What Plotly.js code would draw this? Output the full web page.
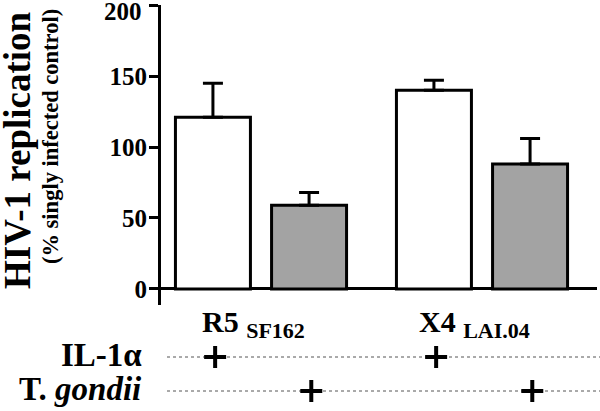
<!DOCTYPE html>
<html>
<head>
<meta charset="utf-8">
<script src="https://cdn.plot.ly/plotly-3.0.1.min.js"></script>
<style>html,body{margin:0;padding:0;background:#fff;}#chart{width:600px;height:411px;}</style>
</head>
<body>
<div id="chart"></div>
<script>
// ---- data ----
const groups = ['R5', 'X4'];
const groupSubs = ['SF162', 'LAI.04'];
const il1aValues = [121, 140];
const il1aErrors = [24, 7];
const tgondiiValues = [59, 88];
const tgondiiErrors = [9, 18];
const yTicks = [0, 50, 100, 150, 200];
const rowLabels = ['IL-1α', 'T. <i>gondii</i>'];

// ---- layout helpers ----
const W = 600, H = 411;
const M = {l: 161, r: 3, t: 5, b: 106};
const plotW = W - M.l - M.r, plotH = H - M.t - M.b;
const px = p => (p - M.l) / plotW;
const py = p => (H - M.b - p) / plotH;
const yRange = [-11.3, 200.05];

const bargap = 0.13, bargroupgap = 0.22;
const slot = (1 - bargap) / 2;
const xIdx = groups.map((g, i) => i);
const serif = 'Liberation Serif, serif';
const yMax = yTicks[yTicks.length - 1];

const traces = [
  {
    type: 'bar', x: xIdx, name: 'IL-1α', y: il1aValues, hoverinfo: 'skip',
    marker: {color: '#ffffff', line: {color: '#000', width: 3}},
    error_y: {type: 'data', array: il1aErrors, arrayminus: il1aValues.map(() => 0), symmetric: false,
              color: '#000', thickness: 3, width: 10}
  },
  {
    type: 'bar', x: xIdx, name: 'T. gondii', y: tgondiiValues, hoverinfo: 'skip',
    marker: {color: '#a3a3a3', line: {color: '#000', width: 3}},
    error_y: {type: 'data', array: tgondiiErrors, arrayminus: tgondiiValues.map(() => 0), symmetric: false,
              color: '#000', thickness: 3, width: 10}
  }
];

const rowY = [357, 391];
const shapes = rowY.map(y => ({type: 'line', xref: 'paper', yref: 'paper', x0: px(167), x1: px(600), y0: py(y), y1: py(y),
  layer: 'below', line: {color: '#555', width: 1, dash: 'dot'}}));

// plus marks: IL-1α under first bar of each group, T. gondii under second
[il1aValues, tgondiiValues].forEach((vals, s) => {
  const off = (s === 0 ? -1 : 1) * slot / 2;
  vals.forEach((v, i) => {
    const xa = i + off + 0.01, ya = py(rowY[s]);
    shapes.push({type: 'line', xref: 'x', yref: 'paper', xsizemode: 'pixel', xanchor: xa, x0: -11, x1: 11,
      y0: ya, y1: ya, line: {color: '#000', width: 4}});
    shapes.push({type: 'line', xref: 'x', yref: 'paper', ysizemode: 'pixel', yanchor: ya, y0: -11, y1: 11,
      x0: xa, x1: xa, line: {color: '#000', width: 4}});
  });
});

const annotations = [];
// y-axis titles
annotations.push({xref: 'paper', yref: 'paper', x: px(18), xanchor: 'center', y: py(150), yanchor: 'middle',
  text: '<b>HIV-1 replication</b>', textangle: -90, showarrow: false, font: {family: serif, size: 37, color: '#000'}});
annotations.push({xref: 'paper', yref: 'paper', x: px(51), xanchor: 'center', y: py(137), yanchor: 'middle',
  text: '<b>(% singly infected control)</b>', textangle: -90, showarrow: false, font: {family: serif, size: 22.5, color: '#000'}});
// top tick label (drawn slightly lower, as in the original, so it stays on the page)
annotations.push({xref: 'paper', yref: 'y', x: px(144), xanchor: 'right', y: yMax, yanchor: 'middle', yshift: -6,
  text: '<b>' + yMax + '</b>', showarrow: false, font: {family: serif, size: 25, color: '#000'}});
// group labels
groups.forEach((g, i) => {
  annotations.push({xref: 'x', yref: 'paper', x: i, xshift: -8, y: py(324), yanchor: 'middle',
    text: '<b>' + g + ' <sub><span style="font-size:22px">' + groupSubs[i] + '</span></sub></b>', showarrow: false,
    font: {family: serif, size: 30, color: '#000'}});
});
// row labels
rowLabels.forEach((t, r) => {
  annotations.push({xref: 'paper', yref: 'paper', x: px(144), xanchor: 'right', y: py(rowY[r] - 2), yanchor: 'middle',
    text: '<b>' + t + '</b>', showarrow: false, font: {family: serif, size: 33, color: '#000'}});
});

const x0 = -(261 - M.l) / 221, x1 = (W - M.r - 261) / 221;

const layout = {
  width: W, height: H,
  margin: Object.assign({autoexpand: false}, M),
  paper_bgcolor: '#fff', plot_bgcolor: '#fff',
  font: {family: serif, color: '#000'},
  showlegend: false,
  barmode: 'group', bargap: bargap, bargroupgap: bargroupgap,
  xaxis: {type: 'linear', range: [x0, x1], showticklabels: false, ticks: '', showgrid: false, zeroline: false,
          showline: false, fixedrange: true},
  yaxis: {range: yRange, tickmode: 'array', tickvals: yTicks,
          ticktext: yTicks.map(v => v === yMax ? '' : '<b>' + v + '</b>'),
          ticks: 'outside', ticklen: 9,
          tickwidth: 3, tickcolor: '#000', showline: true, linewidth: 3, linecolor: '#000', showgrid: false,
          zeroline: true, zerolinewidth: 3, zerolinecolor: '#000', ticklabelstandoff: -3,
          tickfont: {family: serif, size: 25, color: '#000'}},
  annotations: annotations,
  shapes: shapes
};

Plotly.newPlot('chart', traces, layout, {staticPlot: true, displayModeBar: false});
</script>
</body>
</html>
